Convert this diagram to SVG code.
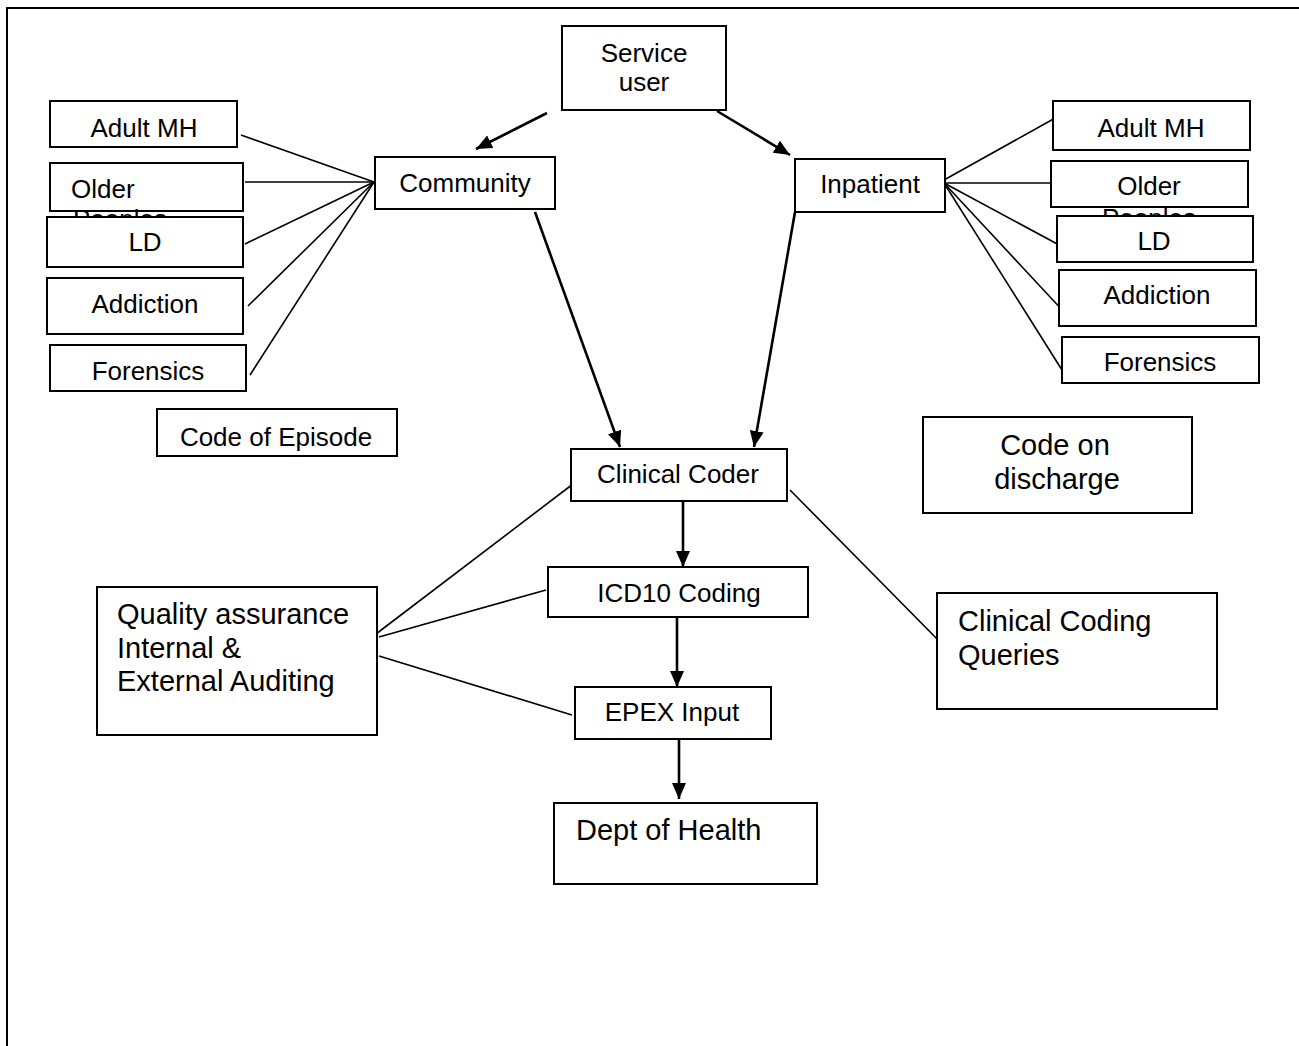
<svg xmlns="http://www.w3.org/2000/svg" width="1299" height="1046" viewBox="0 0 1299 1046">
<defs>
<style>
.b{fill:#fff;stroke:#000;stroke-width:2}
.t{font-family:"Liberation Sans",Arial,sans-serif;font-size:26px;fill:#000}
.L{font-family:"Liberation Sans",Arial,sans-serif;font-size:29px;fill:#000}
.c{text-anchor:middle}
.ln{stroke:#000;stroke-width:1.6;fill:none}
.ar{stroke:#000;stroke-width:2.6;fill:none;marker-end:url(#ah)}
</style>
<marker id="ah" markerUnits="userSpaceOnUse" viewBox="0 0 16 14" markerWidth="16" markerHeight="14" refX="16" refY="7" orient="auto">
<path d="M0,0 L16,7 L0,14 z" fill="#000"/>
</marker>
</defs>
<rect width="1299" height="1046" fill="#fff"/>
<path d="M7,1046 L7,8 L1299,8" fill="none" stroke="#000" stroke-width="2"/>

<g id="connectors">
<line class="ln" x1="374" y1="182" x2="241" y2="135"/>
<line class="ln" x1="374" y1="182" x2="245" y2="182"/>
<line class="ln" x1="374" y1="182" x2="245" y2="244"/>
<line class="ln" x1="374" y1="182" x2="248" y2="306"/>
<line class="ln" x1="374" y1="182" x2="250" y2="375"/>
<line class="ln" x1="944" y1="180" x2="1057" y2="117"/>
<line class="ln" x1="944" y1="183" x2="1055" y2="183"/>
<line class="ln" x1="944" y1="183" x2="1061" y2="246"/>
<line class="ln" x1="944" y1="183" x2="1065" y2="313"/>
<line class="ln" x1="944" y1="183" x2="1062" y2="370"/>
<line class="ln" x1="372" y1="637" x2="573" y2="484"/>
<line class="ln" x1="379" y1="637" x2="546" y2="590"/>
<line class="ln" x1="379" y1="656" x2="572" y2="715"/>
<line class="ln" x1="790" y1="490" x2="945" y2="647"/>
<line class="ar" x1="547" y1="113" x2="476" y2="149"/>
<line class="ar" x1="717" y1="111" x2="790" y2="155"/>
<line class="ar" x1="535" y1="212" x2="620" y2="447"/>
<line class="ar" x1="795" y1="212" x2="754" y2="447"/>
<line class="ar" x1="683" y1="497" x2="683" y2="567"/>
<line class="ar" x1="677" y1="617" x2="677" y2="687"/>
<line class="ar" x1="679" y1="737" x2="679" y2="799"/>
</g>

<g id="service-user"><rect class="b" x="562" y="26" width="164" height="84"/><text class="t c" x="644" y="62">Service</text><text class="t c" x="644" y="91">user</text></g>
<g id="community"><rect class="b" x="375" y="157" width="180" height="52"/><text class="t c" x="465" y="192">Community</text></g>
<g id="inpatient"><rect class="b" x="795" y="159" width="150" height="53"/><text class="t c" x="870" y="193">Inpatient</text></g>

<g id="l-adult-mh"><rect class="b" x="50" y="101" width="187" height="46"/><text class="t c" x="144" y="137">Adult MH</text></g>
<g id="l-older"><rect class="b" x="50" y="163" width="193" height="48"/><text class="t" x="71" y="198">Older</text><text class="t" x="73" y="228">Peoples</text></g>
<g id="l-ld"><rect class="b" x="47" y="217" width="196" height="50"/><text class="t c" x="145" y="251">LD</text></g>
<g id="l-addiction"><rect class="b" x="47" y="278" width="196" height="56"/><text class="t c" x="145" y="313">Addiction</text></g>
<g id="l-forensics"><rect class="b" x="50" y="345" width="196" height="46"/><text class="t c" x="148" y="380">Forensics</text></g>
<g id="code-of-episode"><rect class="b" x="157" y="409" width="240" height="47"/><text class="t c" x="276" y="446">Code of Episode</text></g>

<g id="r-adult-mh"><rect class="b" x="1053" y="101" width="197" height="49"/><text class="t c" x="1151" y="137">Adult MH</text></g>
<g id="r-older"><rect class="b" x="1051" y="161" width="197" height="46"/><text class="t c" x="1149" y="195">Older</text><text class="t c" x="1149" y="227">Peoples</text></g>
<g id="r-ld"><rect class="b" x="1057" y="216" width="196" height="46"/><text class="t c" x="1154" y="250">LD</text></g>
<g id="r-addiction"><rect class="b" x="1059" y="270" width="197" height="56"/><text class="t c" x="1157" y="304">Addiction</text></g>
<g id="r-forensics"><rect class="b" x="1062" y="337" width="197" height="46"/><text class="t c" x="1160" y="371">Forensics</text></g>
<g id="code-on-discharge"><rect class="b" x="923" y="417" width="269" height="96"/><text class="L c" x="1055" y="455">Code on</text><text class="L c" x="1057" y="489">discharge</text></g>

<g id="clinical-coder"><rect class="b" x="571" y="449" width="216" height="52"/><text class="t c" x="678" y="483">Clinical Coder</text></g>
<g id="icd10"><rect class="b" x="548" y="567" width="260" height="50"/><text class="t c" x="679" y="602">ICD10 Coding</text></g>
<g id="epex"><rect class="b" x="575" y="687" width="196" height="52"/><text class="t c" x="672" y="721">EPEX Input</text></g>
<g id="dept-of-health"><rect class="b" x="554" y="803" width="263" height="81"/><text class="L" x="576" y="840">Dept of Health</text></g>
<g id="quality-assurance"><rect class="b" x="97" y="587" width="280" height="148"/><text class="L" x="117" y="624">Quality assurance</text><text class="L" x="117" y="658">Internal &amp;</text><text class="L" x="117" y="691">External Auditing</text></g>
<g id="clinical-coding-queries"><rect class="b" x="937" y="593" width="280" height="116"/><text class="L" x="958" y="631">Clinical Coding</text><text class="L" x="958" y="665">Queries</text></g>
</svg>
